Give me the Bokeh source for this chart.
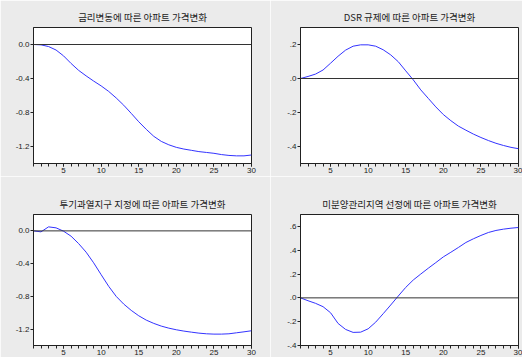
from bokeh.plotting import figure
from bokeh.layouts import column, row
from bokeh.models import Range1d, FixedTicker, Span, BoxAnnotation
from bokeh.embed import file_html
from bokeh.resources import INLINE

periods = [1, 2, 3, 4, 5, 6, 7, 8, 9, 10, 11, 12, 13, 14, 15,
           16, 17, 18, 19, 20, 21, 22, 23, 24, 25, 26, 27, 28, 29, 30]
x_major = [5, 10, 15, 20, 25, 30]

title_rate = "금리변동에 따른 아파트 가격변화"
title_dsr = "DSR 규제에 따른 아파트 가격변화"
title_spec = "투기과열지구 지정에 따른 아파트 가격변화"
title_unsold = "미분양관리지역 선정에 따른 아파트 가격변화"

rate = [0.0, -0.004, -0.024, -0.065, -0.134, -0.223, -0.304, -0.369, -0.43, -0.487,
        -0.552, -0.629, -0.714, -0.81, -0.909, -0.998, -1.08, -1.14, -1.18, -1.21,
        -1.23, -1.245, -1.26, -1.27, -1.28, -1.295, -1.305, -1.31, -1.31, -1.30]
dsr = [0.0, 0.012, 0.026, 0.05, 0.09, 0.131, 0.167, 0.19, 0.198, 0.198,
       0.19, 0.169, 0.139, 0.099, 0.045, -0.008, -0.067, -0.117, -0.167, -0.212,
       -0.248, -0.28, -0.304, -0.327, -0.347, -0.365, -0.381, -0.394, -0.405, -0.413]
spec = [0.0, -0.012, 0.049, 0.037, -0.004, -0.065, -0.155, -0.26, -0.39, -0.535,
        -0.677, -0.80, -0.894, -0.971, -1.037, -1.09, -1.13, -1.163, -1.188, -1.208,
        -1.224, -1.237, -1.249, -1.257, -1.261, -1.261, -1.257, -1.245, -1.233, -1.22]
unsold = [0.0, -0.024, -0.046, -0.074, -0.125, -0.215, -0.265, -0.29, -0.288, -0.26,
          -0.204, -0.133, -0.06, 0.015, 0.088, 0.15, 0.20, 0.249, 0.296, 0.344,
          0.383, 0.423, 0.465, 0.496, 0.524, 0.549, 0.566, 0.577, 0.585, 0.591]

rate_yticks = [0.0, -0.4, -0.8, -1.2]
rate_ylabels = ["0.0", "-0.4", "-0.8", "-1.2"]
dsr_yticks = [0.2, 0.0, -0.2, -0.4]
dsr_ylabels = [".2", ".0", "-.2", "-.4"]
spec_yticks = [0.0, -0.4, -0.8, -1.2]
spec_ylabels = ["0.0", "-0.4", "-0.8", "-1.2"]
unsold_yticks = [0.6, 0.4, 0.2, 0.0, -0.2, -0.4]
unsold_ylabels = [".6", ".4", ".2", ".0", "-.2", "-.4"]

rate_range = (-1.4, 0.2)
dsr_range = (-0.5, 0.3)
spec_range = (-1.4, 0.2)
unsold_range = (-0.4, 0.7)

BG = "#ebebeb"
INK = "#222222"


def panel(title, values, yr, yticks, ylabels, w, h, bl, br, bt, bb):
    p = figure(width=w, height=h, output_backend="svg", toolbar_location=None,
               x_range=Range1d(1, 30), y_range=Range1d(*yr),
               min_border_left=bl, min_border_right=br,
               min_border_top=bt, min_border_bottom=bb,
               background_fill_color="white", border_fill_color=BG,
               outline_line_color=INK, outline_line_width=1, outline_line_alpha=1.0)
    p.title.text = title
    p.title.align = "center"
    p.title.text_font = "Noto Sans CJK KR"
    p.title.text_font_size = "9.5px"
    p.title.text_font_style = "normal"
    p.title.text_color = INK
    p.title.standoff = 8
    p.xgrid.visible = False
    p.ygrid.visible = False

    xa = p.xaxis[0]
    xa.ticker = FixedTicker(ticks=x_major, minor_ticks=periods)
    ya = p.yaxis[0]
    ya.ticker = FixedTicker(ticks=yticks, minor_ticks=[])
    ya.major_label_overrides = {v: s for v, s in zip(yticks, ylabels)}
    for ax in (xa, ya):
        ax.axis_line_color = INK
        ax.major_tick_line_color = INK
        ax.minor_tick_line_color = INK
        ax.major_tick_in = 0
        ax.major_tick_out = 3
        ax.minor_tick_in = 0
        ax.minor_tick_out = 3
        ax.major_label_text_font = "Liberation Sans"
        ax.major_label_text_font_size = "8px"
        ax.major_label_text_color = INK
        ax.major_label_standoff = 1

    p.add_layout(BoxAnnotation(fill_color=None, line_color=INK, line_width=1))
    p.add_layout(Span(location=0, dimension="width", line_color="#333333", line_width=1))
    p.line(periods, values, line_color="#3333ff", line_width=1)
    return p


p1 = panel(title_rate, rate, rate_range, rate_yticks, rate_ylabels, 270, 176, 33, 19, 27, 13)
p2 = panel(title_dsr, dsr, dsr_range, dsr_yticks, dsr_ylabels, 252, 176, 30, 4, 27, 13)
p3 = panel(title_spec, spec, spec_range, spec_yticks, spec_ylabels, 270, 181, 33, 19, 38, 0)
p4 = panel(title_unsold, unsold, unsold_range, unsold_yticks, unsold_ylabels, 252, 181, 30, 4, 38, 0)

layout = column(row(p1, p2), row(p3, p4))

open("out.html", "w").write(file_html(layout, INLINE))
